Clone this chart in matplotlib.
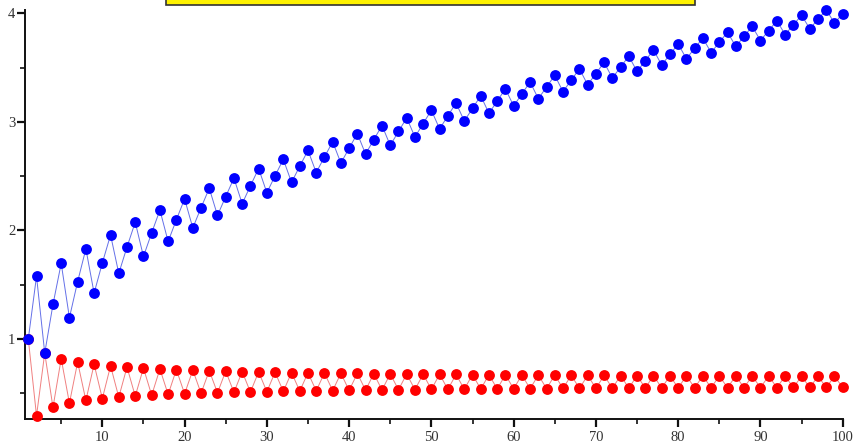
import matplotlib
matplotlib.use("Agg")
import matplotlib.pyplot as plt
from matplotlib.patches import Rectangle
from matplotlib.ticker import MultipleLocator

# partial sums of 1 - 1/sqrt(2) + 1/sqrt(3) - ...  (n = 1..100)
n = list(range(1, 101))
alternating = [
    1.000, 0.293, 0.870, 0.370, 0.818, 0.409, 0.787, 0.434, 0.767, 0.451,
    0.752, 0.464, 0.741, 0.474, 0.732, 0.482, 0.724, 0.489, 0.718, 0.495,
    0.713, 0.500, 0.708, 0.504, 0.704, 0.508, 0.700, 0.511, 0.697, 0.514,
    0.694, 0.517, 0.691, 0.520, 0.689, 0.522, 0.687, 0.524, 0.684, 0.526,
    0.683, 0.528, 0.681, 0.530, 0.679, 0.532, 0.678, 0.533, 0.676, 0.535,
    0.675, 0.536, 0.673, 0.537, 0.672, 0.539, 0.671, 0.540, 0.670, 0.541,
    0.669, 0.542, 0.668, 0.543, 0.667, 0.544, 0.666, 0.545, 0.665, 0.546,
    0.664, 0.546, 0.663, 0.547, 0.663, 0.548, 0.662, 0.549, 0.661, 0.549,
    0.661, 0.550, 0.660, 0.551, 0.659, 0.552, 0.659, 0.552, 0.658, 0.553,
    0.658, 0.553, 0.657, 0.554, 0.656, 0.554, 0.656, 0.555, 0.655, 0.555,
]
# same terms rearranged: two positive, one negative
rearranged = [
    1.000, 1.577, 0.870, 1.318, 1.696, 1.196, 1.529, 1.830, 1.422, 1.700,
    1.958, 1.604, 1.847, 2.076, 1.760, 1.978, 2.187, 1.898, 2.098, 2.290,
    2.023, 2.209, 2.388, 2.138, 2.312, 2.481, 2.246, 2.410, 2.570, 2.347,
    2.503, 2.655, 2.442, 2.591, 2.737, 2.533, 2.676, 2.816, 2.620, 2.757,
    2.892, 2.703, 2.836, 2.966, 2.783, 2.911, 3.037, 2.860, 2.984, 3.107,
    2.935, 3.055, 3.174, 3.007, 3.124, 3.240, 3.078, 3.192, 3.304, 3.146,
    3.257, 3.367, 3.213, 3.321, 3.428, 3.278, 3.384, 3.488, 3.341, 3.445,
    3.547, 3.403, 3.505, 3.605, 3.464, 3.563, 3.662, 3.523, 3.621, 3.717,
    3.581, 3.677, 3.772, 3.638, 3.732, 3.826, 3.694, 3.787, 3.879, 3.749,
    3.840, 3.931, 3.804, 3.893, 3.982, 3.857, 3.945, 4.032, 3.909, 3.996,
]

plt.rcParams["font.family"] = ["Liberation Serif", "DejaVu Serif"]

fig = plt.figure(figsize=(8.55, 4.44), dpi=100)
ax = fig.add_axes([25 / 855, 25 / 444, (842.7 - 25) / 855, 409 / 444])

# red series first so the blue dots sit on top where they meet
ax.plot(n, alternating, color="#f08080", lw=0.7, zorder=2, clip_on=False)
ax.plot(n, alternating, "o", color="#ff0000", ms=7.8, mec="none", zorder=3, clip_on=False)
ax.plot(n, rearranged, color="#6470e8", lw=0.7, zorder=4, clip_on=False)
ax.plot(n, rearranged, "o", color="#0000ff", ms=7.8, mec="none", zorder=5, clip_on=False)

ax.set_xlim(0.6, 100)
ax.set_ylim(0.263, 4.03)

for side in ("top", "right"):
    ax.spines[side].set_visible(False)
for side in ("left", "bottom"):
    ax.spines[side].set_linewidth(1.4)
    ax.spines[side].set_color("#111111")

ax.xaxis.set_major_locator(MultipleLocator(10))
ax.xaxis.set_minor_locator(MultipleLocator(5))
ax.yaxis.set_major_locator(MultipleLocator(1))
ax.yaxis.set_minor_locator(MultipleLocator(0.5))

ax.tick_params(which="major", length=6, width=1.6, color="#111111",
               labelsize=10.5, labelcolor="#333333")
ax.tick_params(which="minor", length=3.5, width=1.2, color="#111111")
ax.tick_params(axis="x", which="major", pad=2.5)
ax.tick_params(axis="y", which="major", pad=1)

# title box, mostly above the top edge of the figure
fig.patches.append(Rectangle((166 / 855, 439 / 444), (695 - 166) / 855, 0.05,
                             transform=fig.transFigure, facecolor="#fff200",
                             edgecolor="#333333", lw=1.2))

fig.savefig("out.png", dpi=100)
